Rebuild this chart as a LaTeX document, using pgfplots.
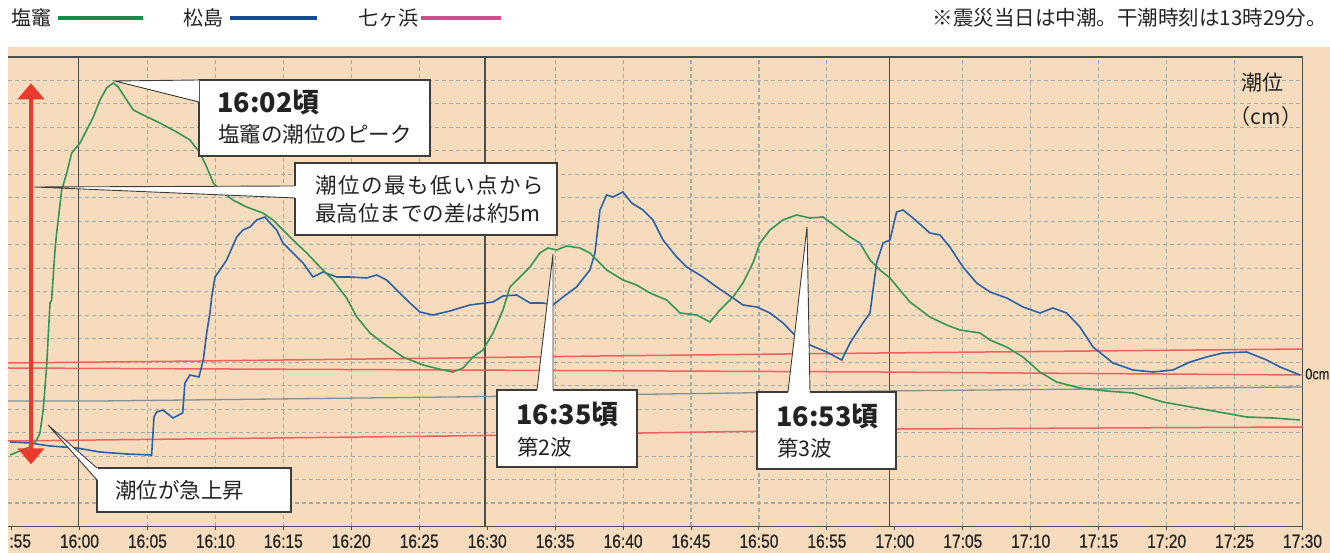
\documentclass[border=0pt]{standalone}
\usepackage{fontspec}
\setmainfont{Noto Sans CJK JP}
\newfontfamily\tickfont{Liberation Sans}[FakeStretch=0.82,FakeBold=0.6]
\usepackage{pgfplots}
\pgfplotsset{compat=1.18}
\usetikzlibrary{arrows.meta}

\definecolor{paper}{RGB}{246,220,189}
\definecolor{gridc}{RGB}{160,172,168}
\definecolor{frame}{RGB}{70,78,78}
\definecolor{shiogama}{RGB}{52,150,84}
\definecolor{matsushima}{RGB}{42,96,170}
\definecolor{refred}{RGB}{240,96,96}
\definecolor{refgrey}{RGB}{125,145,150}
\definecolor{legG}{RGB}{22,140,72}
\definecolor{legB}{RGB}{22,74,145}
\definecolor{legP}{RGB}{205,80,140}
\definecolor{arrowred}{RGB}{234,58,46}
\definecolor{boxline}{RGB}{60,60,60}
\definecolor{txt}{RGB}{35,35,35}

\newcommand\regtxt{\fontsize{21.5}{24}\selectfont}
\newcommand\bigtxt{\fontsize{27}{30}\selectfont\bfseries}

\begin{document}
\begin{tikzpicture}[x=1pt,y=1pt]
\path[use as bounding box] (-8,-29) rectangle (1322,524);
% graph paper
\fill[paper] (0,-29) rectangle (1322,477);

\begin{axis}[
  at={(0,-2.5)}, anchor=south west,
  scale only axis, width=1294.6pt, height=469.5pt,
  xmin=-5.26, xmax=90, ymin=-150.5, ymax=319,
  clip=false,
  axis line style={draw=none},
  xtick={-5,0,5,...,90},
  xticklabels={\phantom{15}:55,16:00,16:05,16:10,16:15,16:20,16:25,16:30,16:35,16:40,16:45,16:50,16:55,17:00,17:05,17:10,17:15,17:20,17:25,17:30},
  xtick pos=left, tick align=outside, major tick length=3.5pt,
  x tick style={frame, line width=1pt},
  xticklabel style={font=\tickfont\fontsize{19}{19}\selectfont, text=txt, yshift=-1pt},
  ytick={-127.025,-103.55,...,295.525}, yticklabels={}, y tick style={draw=none},
  ymajorgrids,
  extra x ticks={5,10,15,20,25,35,40,45,50,55,65,70,75,80,85},
  extra x tick labels={},
  extra x tick style={xmajorgrids=true, tick style={draw=none}},
  major grid style={gridc, line width=1.1pt, dash pattern=on 4pt off 3pt},
]
% chart frame and half-hour lines
\draw[frame, line width=1.5pt] (rel axis cs:0,1) -- (rel axis cs:1,1) -- (rel axis cs:1,0) -- (rel axis cs:0,0);
\draw[frame, line width=1.3pt] (axis cs:-0.05,-150.5) -- (axis cs:-0.05,319);
\draw[frame, line width=1.3pt] (axis cs:29.85,-150.5) -- (axis cs:29.85,319);
\draw[frame, line width=1.3pt] (axis cs:59.6,-150.5) -- (axis cs:59.6,319);

% reference lines of the gauge paper
\addplot[refred, line width=1.5pt] coordinates {(-5.26,13) (8.87,15) (27.26,18) (38.30,20) (58.90,23) (90,27)};
\addplot[refred, line width=1.5pt] coordinates {(-5.26,8) (27.26,6) (58.90,4) (90,1)};
\addplot[refgrey, line width=1.3pt] coordinates {(-5.26,-25) (1.51,-25) (27.26,-21) (58.90,-15) (90,-11)};
\addplot[refred, line width=1.5pt] coordinates {(-5.26,-65) (27.26,-60) (60.37,-53) (90,-51)};

% Matsushima
\addplot[matsushima, line width=1.6pt] coordinates {
(-5.11,-66) (-3.64,-67) (-2.17,-70) (-0.21,-72) (1.51,-76) (3.47,-78) (5.31,-79)
(5.48,-41) (5.68,-36) (6.14,-34) (6.88,-42) (7.59,-37) (7.76,-7) (8.13,1) (8.79,-1)
(9.11,16) (9.36,43) (9.60,63) (9.73,79) (9.97,99) (10.34,106) (10.83,116) (11.57,139)
(12.03,146) (12.55,149) (13.04,156) (13.65,159) (14.02,153) (14.51,146) (14.97,133)
(15.71,123) (16.45,113) (17.18,99) (17.92,104) (18.93,99) (19.90,99) (21.13,98)
(21.87,101) (22.60,96) (23.34,86) (24.32,73) (25.05,64) (26.01,61) (27.26,65)
(28.73,71) (30.43,74) (31.16,80) (32.17,81) (33.15,73) (34.10,73) (34.84,71)
(35.58,79) (36.58,89) (37.56,106) (37.93,123) (38.30,166) (38.79,181) (39.26,179)
(39.99,184) (40.63,173) (41.47,166) (42.20,156) (42.94,136) (43.94,119) (44.68,109)
(45.88,99) (46.89,89) (48.09,78) (48.82,71) (49.83,69) (50.81,63) (51.77,53)
(52.77,39) (53.75,31) (54.98,24) (56.09,16) (56.70,33) (57.65,53) (58.17,63)
(58.66,113) (59.13,133) (59.64,136) (60.13,164) (60.60,166) (61.33,158) (62.58,143)
(63.32,141) (64.05,129) (65.01,109) (66.02,93) (67.00,84) (68.23,78) (69.43,69)
(70.68,63) (71.63,68) (72.64,63) (73.62,49) (74.58,29) (76.05,13) (77.52,6)
(78.99,4) (80.46,6) (81.72,14) (82.94,19) (84.14,23) (85.89,24) (87.36,16)
(88.34,9) (89.81,1)
};

% Shiogama
\addplot[shiogama, line width=1.6pt] coordinates {
(-5.11,-79) (-4.38,-75) (-3.64,-71) (-3.15,-64) (-2.91,-57) (-2.67,-34) (-2.42,9)
(-2.17,73) (-2.05,76) (-1.80,126) (-1.68,143) (-1.31,186) (-0.94,203) (-0.57,223)
(0.04,233) (0.53,246) (1.02,259) (1.51,276) (2.00,288) (2.49,293) (2.85,289)
(3.47,276) (3.96,266) (4.69,261) (5.92,253) (7.15,244) (8.13,236) (8.87,223)
(9.36,209) (9.85,193) (10.34,186) (11.29,176) (12.30,169) (13.50,163) (14.24,156)
(14.97,146) (15.71,136) (16.72,123) (17.70,109) (18.65,96) (19.66,78) (20.40,59)
(21.38,43) (22.33,33) (23.80,19) (25.28,11) (26.75,6) (27.48,4) (28.22,8)
(28.95,19) (29.69,26) (30.43,43) (31.16,66) (31.68,89) (32.41,99) (33.15,109)
(33.88,123) (34.47,128) (35.11,126) (35.85,130) (36.83,128) (37.56,123) (38.06,116)
(38.79,106) (39.99,96) (41.00,91) (41.98,83) (43.21,76) (44.19,63) (45.42,61)
(46.39,54) (47.13,66) (48.09,79) (48.82,93) (49.56,113) (50.07,133) (50.81,146)
(51.76,156) (52.77,161) (53.75,158) (54.71,159) (55.72,149) (56.70,139) (57.43,133)
(58.17,116) (58.90,106) (59.64,98) (60.37,86) (61.11,74) (62.58,59) (63.81,51)
(64.79,46) (66.26,43) (67.00,36) (68.22,29) (69.42,19) (70.67,4) (71.90,-6)
(73.62,-12) (75.58,-15) (77.52,-17) (79.73,-26) (82.20,-32) (84.65,-38) (85.88,-41)
(87.82,-42) (89.80,-44)
};
\end{axis}

% red range arrow
\draw[arrowred, line width=4pt, {Triangle[width=26pt,length=16pt]}-{Triangle[width=26pt,length=16pt]}] (23,59.7) -- (23,440.7);

% callouts
\tikzset{box/.style={draw=boxline, fill=white, line width=1.2pt},
         wedge/.style={draw=boxline, line width=0.9pt}}
\draw[box] (191,444) rectangle (422,368);
\fill[white] (107,443) -- (191,444) -- (191,422) -- cycle;
\draw[wedge] (191,444) -- (107,443) -- (191,422);

\draw[box] (287,361) rectangle (549,289);
\fill[white] (26,337) -- (287.8,338) -- (287.8,326) -- cycle;
\draw[wedge] (287,338) -- (26,337) -- (287,326);

\draw[box] (489,134) rectangle (629,57);
\fill[white] (545,270) -- (529,133.2) -- (545,133.2) -- cycle;
\draw[wedge] (529,134) -- (545,270) -- (545,134);

\draw[box] (749,132) rectangle (888,55);
\fill[white] (799,297) -- (780,131.2) -- (802,131.2) -- cycle;
\draw[wedge] (780,132) -- (799,297) -- (802,132);

\draw[box] (89,56) rectangle (283,12);
\fill[white] (40,99) -- (89.8,56) -- (89.8,44) -- cycle;
\draw[wedge] (89,56) -- (40,99) -- (89,44);

\begin{scope}[every node/.style={inner sep=0pt, text=txt}]
\node[anchor=west] at (209,421) {\bigtxt 16:02頃};
\node[anchor=west] at (210,390) {\regtxt 塩竈の潮位のピーク};
\node[anchor=west] at (307,339) {\regtxt\addfontfeature{LetterSpace=7}潮位の最も低い点から};
\node[anchor=west] at (307,311) {\regtxt 最高位までの差は約5m};
\node[anchor=west] at (508,109) {\bigtxt 16:35頃};
\node[anchor=west] at (509,77) {\regtxt 第2波};
\node[anchor=west] at (768,107) {\bigtxt 16:53頃};
\node[anchor=west] at (769,76) {\regtxt 第3波};
\node[anchor=west] at (107,34) {\regtxt 潮位が急上昇};
% axis captions
\node at (1254,441) {\fontsize{21}{24}\selectfont 潮位};
\node at (1258,407) {\fontsize{21}{24}\selectfont （cm）};
\node[anchor=east] at (1321.5,150) {\tickfont\fontsize{15.5}{16}\selectfont 0cm};
% legend and note above the chart
\node[anchor=west] at (3,506) {\fontsize{20}{22}\selectfont 塩竈};
\node[anchor=west] at (175,506) {\fontsize{20}{22}\selectfont 松島};
\node[anchor=west] at (350,506) {\fontsize{20}{22}\selectfont 七ヶ浜};
\node[anchor=east] at (1319,506) {\fontsize{20.5}{22}\selectfont ※震災当日は中潮。干潮時刻は13時29分。};
\end{scope}
\draw[legG, line width=3.5pt] (50,506) -- (135,506);
\draw[legB, line width=3.5pt] (222,506) -- (309,506);
\draw[legP, line width=3.5pt] (413,506) -- (493,506);
\end{tikzpicture}
\end{document}
